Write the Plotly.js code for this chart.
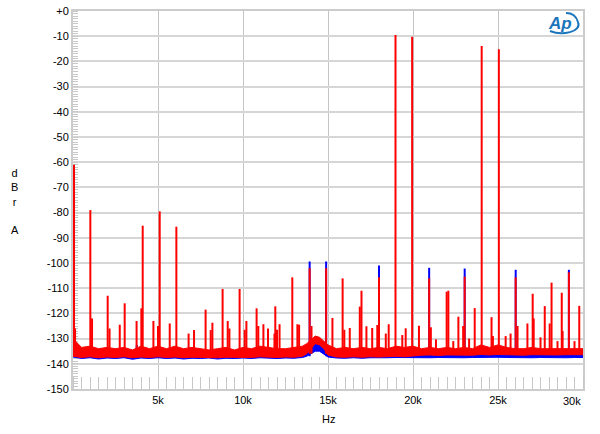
<!DOCTYPE html>
<html>
<head>
<meta charset="utf-8">
<script src="https://cdn.plot.ly/plotly-3.0.1.min.js"></script>
<style>html,body{margin:0;padding:0;background:#fff;}#chart{width:600px;height:434px;}</style>
</head>
<body>
<div id="chart"></div>
<script>
// ---- Data ----
const xTickHz = [5000, 10000, 15000, 20000, 25000];
const xTickText = ["5k", "10k", "15k", "20k", "25k"];
const yTickDB = [0, -10, -20, -30, -40, -50, -60, -70, -80, -90, -100, -110, -120, -130, -140, -150];
const yTickText = ["+0", "-10", "-20", "-30", "-40", "-50", "-60", "-70", "-80", "-90", "-100", "-110", "-120", "-130", "-140", "-150"];

// noise floor band (envelopes), Hz
const noiseHz = [0, 500, 1000, 1500, 2000, 2500, 3000, 3500, 4000, 4500, 5000, 5500, 6000, 6500, 7000, 7500, 8000, 8500, 9000, 9500, 10000, 10500, 11000, 11500, 12000, 12500, 13000, 13500, 13750, 14000, 14250, 14500, 14750, 15000, 15500, 16000, 16500, 17000, 17500, 18000, 18500, 19000, 19500, 20000, 20500, 21000, 21500, 22000, 22500, 23000, 23500, 24000, 24500, 25000, 25500, 26000, 26500, 27000, 27500, 28000, 28500, 29000, 29500, 30000];
const redTopDB = [-130, -133.5, -133, -134, -133.5, -134, -133.5, -134.5, -133, -134, -133, -134, -133, -134, -133.5, -134, -134.5, -134, -133.5, -134.5, -133.5, -134, -133, -133.5, -134, -134, -133.5, -133, -132, -130.5, -129, -129.5, -131, -132.5, -134, -133.5, -134, -133.5, -134, -133.5, -134, -133, -133.5, -133, -134, -133.5, -134, -133.5, -134, -133.5, -134, -132.5, -133.5, -132.5, -133.5, -134, -134, -133.5, -134, -134, -134, -134, -134, -134];
const redBottomDB = [-137, -137.5, -137.2, -137.6, -137.3, -137.5, -137.2, -137.6, -137.3, -137.5, -137.2, -137.5, -137.3, -137.6, -137.4, -137.5, -137.3, -137.6, -137.4, -137.5, -137.3, -137.5, -137.2, -137.4, -137.5, -137.3, -137.4, -137, -136, -134, -132, -132.5, -134, -136.5, -137.3, -137.4, -137.2, -137.4, -137.2, -137.3, -137.2, -137, -137.2, -136.8, -136.6, -136.5, -136.7, -136.5, -136.6, -136.4, -136.6, -136.3, -136.5, -136.3, -136.5, -136.4, -136.6, -136.4, -136.5, -136.4, -136.5, -136.4, -136.5, -136.4];
const blueTopDB = [-134.5, -135.5, -135.5, -135.5, -135.5, -135.5, -135.5, -135.5, -135.5, -135.5, -135.5, -135.5, -135.5, -135.5, -135.5, -135.5, -135.5, -135.5, -135.5, -135.5, -135.5, -135.5, -135.5, -135.5, -135.5, -135.5, -135.5, -135.5, -134.5, -133, -131.5, -132, -133.5, -135, -135.5, -135.5, -135.5, -135.5, -135.5, -135.5, -135.5, -135.5, -135.5, -135.5, -135.5, -135.5, -135.5, -135.5, -135.5, -135.5, -135.5, -135.5, -135.5, -135.5, -135.5, -135.5, -135.5, -135.5, -135.5, -135.5, -135.5, -135.5, -135.5, -135.5];
const blueBottomDB = [-137.3, -137.9, -137.6, -138.1, -137.7, -137.9, -137.6, -138.2, -137.7, -137.9, -137.6, -137.9, -137.7, -138.1, -137.8, -137.9, -137.7, -138.1, -137.8, -137.9, -137.7, -137.9, -137.6, -137.8, -137.9, -137.7, -137.8, -137.5, -137, -136, -135, -135, -136, -137.3, -137.7, -137.8, -137.6, -137.8, -137.6, -137.7, -137.6, -137.5, -137.6, -137.4, -137.5, -137.6, -137.5, -137.6, -137.5, -137.6, -137.5, -137.4, -137.5, -137.4, -137.5, -137.6, -137.5, -137.6, -137.5, -137.6, -137.5, -137.6, -137.5, -137.5];

// discrete spectral lines
const redPeakHz = [60, 120, 1020, 1120, 2040, 2150, 2750, 3040, 3740, 4020, 4100, 4730, 5000, 5100, 5690, 6080, 6800, 7120, 7800, 8100, 8200, 8800, 9100, 9200, 9800, 10100, 10200, 10800, 10900, 11200, 11470, 11850, 11900, 12000, 12150, 12900, 13200, 13300, 13920, 14030, 14890, 15260, 15860, 15960, 16280, 16870, 16970, 17260, 17600, 17900, 18000, 18400, 18570, 18970, 19370, 19570, 19950, 20350, 20950, 21050, 21350, 21980, 22080, 22370, 22670, 22950, 23040, 23300, 23630, 24040, 24620, 24700, 25050, 25450, 25740, 26040, 26150, 26730, 27040, 27100, 27500, 27750, 28040, 28150, 28500, 28750, 28800, 29170, 29500, 29780];
const redPeakDB = [-61, -126, -79, -122, -113, -126, -124.5, -116, -123, -118, -85.2, -123, -125, -79.5, -124, -85.6, -128, -126.6, -118.5, -126.6, -123.7, -110.3, -123, -126, -110.3, -126.5, -123, -118, -125, -124.3, -126, -128, -117.2, -126.5, -124.3, -105.7, -124.3, -124.5, -102.1, -125, -102.1, -121.8, -106.1, -126.5, -125.8, -117.3, -111, -125.1, -125.8, -124.6, -105.7, -128, -124.3, -9.5, -128.6, -125.9, -10.2, -124.9, -106.1, -125.5, -130.3, -111.4, -111, -131, -121.3, -125, -105.4, -130, -117.9, -13.9, -121.5, -129, -15.2, -129, -128, -105.7, -125, -124, -112.2, -122, -129.5, -117.1, -124, -107.8, -131, -111.8, -127, -103.7, -131, -117];
// blue lines that stand clear of the red ones
const bluePeakHz = [3750, 13920, 14890, 18000, 20950, 23040, 26040, 29170];
const bluePeakDB = [-132.5, -99.4, -99.4, -101, -101.9, -102.2, -102.7, -102.7];
const redBaseDB = -136;
const blueBaseDB = -137;

// ---- build traces ----
function spikeTrace(hz, db, base, color, width) {
  const x = [], y = [];
  for (let i = 0; i < hz.length; i++) {
    x.push(hz[i], hz[i], null);
    y.push(base, db[i], null);
  }
  return {x: x, y: y, type: 'scatter', mode: 'lines', connectgaps: false,
          line: {color: color, width: width}, hoverinfo: 'skip', showlegend: false};
}
function bandTraces(hz, lo, hi, color) {
  return [
    {x: hz, y: lo, type: 'scatter', mode: 'lines', line: {color: color, width: 1}, showlegend: false, hoverinfo: 'skip'},
    {x: hz, y: hi, type: 'scatter', mode: 'lines', fill: 'tonexty', fillcolor: color,
     line: {color: color, width: 1}, showlegend: false, hoverinfo: 'skip'}
  ];
}
const BLUE = '#0000ff', RED = '#ff0000';
const traces = [].concat(
  bandTraces(noiseHz, blueBottomDB, blueTopDB, BLUE),
  [spikeTrace(bluePeakHz, bluePeakDB, blueBaseDB, BLUE, 2)],
  bandTraces(noiseHz, redBottomDB, redTopDB, RED),
  [spikeTrace(redPeakHz, redPeakDB, redBaseDB, RED, 2)]
);

const FONT = 'Liberation Sans, Arial, sans-serif';
const layout = {
  width: 600, height: 434,
  margin: {l: 73, r: 17, t: 11, b: 45, pad: 0},
  paper_bgcolor: '#ffffff', plot_bgcolor: '#ffffff',
  font: {family: FONT, size: 11, color: '#000'},
  showlegend: false,
  xaxis: {
    range: [0, 30000], tickmode: 'array', tickvals: xTickHz, ticktext: xTickText,
    ticks: '', showgrid: true, gridcolor: '#c4c4c4', gridwidth: 1, zeroline: false,
    showline: true, mirror: true, linecolor: '#cccccc', linewidth: 2, layer: 'below traces',
    tickfont: {family: FONT, size: 11, color: '#000'},
    minor: {tick0: 0, dtick: 500, ticks: 'inside', ticklen: 12, tickcolor: '#c8c8c8', tickwidth: 1, showgrid: false}
  },
  yaxis: {
    range: [-150, 0], tickmode: 'array', tickvals: yTickDB, ticktext: yTickText,
    ticks: '', showgrid: true, gridcolor: '#d6d6d6', gridwidth: 2, zeroline: false,
    showline: true, mirror: true, linecolor: '#cccccc', linewidth: 2, layer: 'below traces',
    tickfont: {family: FONT, size: 11, color: '#000'},
    minor: {tick0: 0, dtick: 1, ticks: 'inside', ticklen: 5, tickcolor: '#c8c8c8', tickwidth: 1, showgrid: false}
  },
  annotations: [
    {text: 'Hz', xref: 'x', x: 15000, yref: 'paper', y: 0, yanchor: 'middle', yshift: -30, showarrow: false,
     font: {family: FONT, size: 11, color: '#000'}},
    {text: '30k', xref: 'x', x: 30000, xanchor: 'right', yref: 'paper', y: 0, yanchor: 'middle', yshift: -12, showarrow: false,
     font: {family: FONT, size: 11, color: '#000'}},
    {text: 'd<br>B<br>r<br><br>A', xref: 'paper', x: -0.1137, xanchor: 'center', yref: 'paper', y: 0.496, yanchor: 'middle',
     showarrow: false, align: 'center', font: {family: FONT, size: 11, color: '#000'}},
    {text: '<b><i>Ap</i></b>', xref: 'paper', x: 0.955, yref: 'paper', y: 0.966, xanchor: 'center', yanchor: 'middle',
     showarrow: false, font: {family: FONT, size: 17, color: '#1b75bb'}}
  ],
  shapes: [
    {type: 'path', xref: 'paper', yref: 'paper',
     path: 'M 0.9353 0.9471 C 0.9588 0.9339 0.9980 0.9444 0.9902 0.9709 C 0.9863 0.9894 0.9765 0.9947 0.9667 0.9947',
     line: {color: '#1b75bb', width: 2}}
  ]
};

Plotly.newPlot('chart', traces, layout, {staticPlot: true, displayModeBar: false});
</script>
</body>
</html>
